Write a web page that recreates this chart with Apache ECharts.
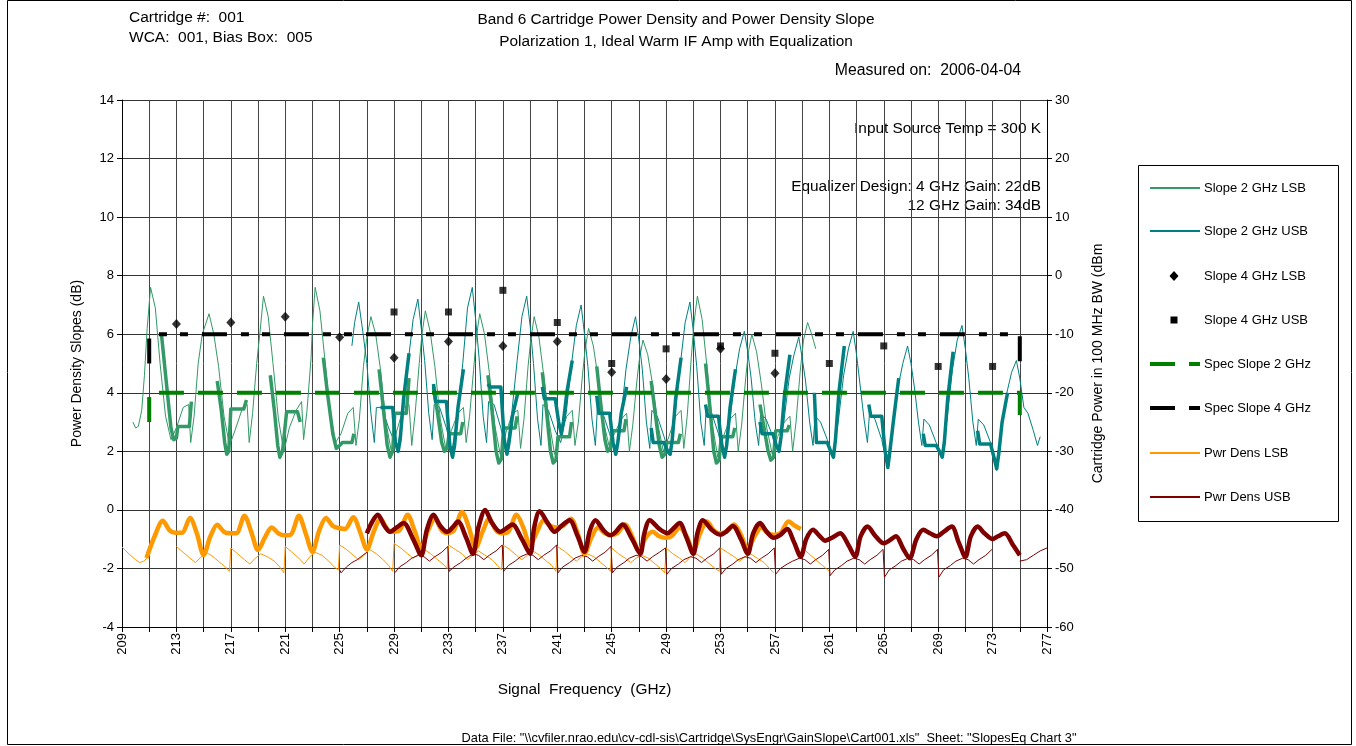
<!DOCTYPE html>
<html>
<head>
<meta charset="utf-8">
<script src="https://cdn.jsdelivr.net/npm/echarts@6.0.0/dist/echarts.min.js"></script>
<style>html,body{margin:0;padding:0;background:#fff;}#chart{width:1356px;height:746px;}</style>
</head>
<body>
<div id="chart"></div>
<script>
// ---------- DATA ----------
const xLabelValues = [209,213,217,221,225,229,233,237,241,245,249,253,257,261,265,269,273,277];
const legendNames = ['Slope 2 GHz LSB','Slope 2 GHz USB','Slope 4 GHz LSB','Slope 4 GHz USB','Spec Slope 2 GHz','Spec Slope 4 GHz','Pwr Dens LSB','Pwr Dens USB'];

const slope2LsbThin = [
[209.8,3.0],[210.0,2.8],[210.2,2.85],[210.45,3.4],[210.65,4.6],[210.85,6.2],[211.1,7.6],
[211.45,6.9],[211.8,5.0],[212.2,3.2],[212.6,2.4],[213.0,2.8],[213.5,3.5],[213.9,3.6],[214.05,2.3],[214.3,3.2],[214.6,5.0],[214.9,6.0],
[215.4,6.7],[215.75,6.0],[216.1,4.9],[216.5,3.2],[216.9,2.2],[217.3,2.7],[217.8,3.4],[218.2,3.6],[218.35,2.3],[218.6,3.3],[218.9,5.0],[219.15,6.1],
[219.4,7.3],[219.75,6.6],[220.1,5.0],[220.5,3.1],[220.9,2.0],[221.3,2.8],[221.8,3.4],[222.2,3.7],[222.35,2.4],[222.6,3.4],[222.9,5.2],[223.0,6.3],
[223.2,7.6],[223.55,6.8],[223.9,5.2],[224.3,3.3],[224.7,2.3],[225.1,2.6],[225.6,3.3],[226.0,3.5],[226.2,2.2],[226.45,3.1],[226.75,4.9],[227.0,5.9],
[227.3,6.6],[227.65,6.0],[228.0,4.8],[228.4,3.0],[228.8,2.0],[229.2,2.7],[229.7,3.5],[230.1,3.6],[230.3,2.2],[230.55,3.3],[230.85,5.0],[231.05,6.0],
[231.3,6.8],[231.65,6.1],[232.0,4.9],[232.4,3.1],[232.8,2.1],[233.2,2.7],[233.7,3.3],[234.1,3.5],[234.3,2.3],[234.55,3.2],[234.85,4.8],[235.05,5.9],
[235.3,6.7],[235.65,6.0],[236.0,4.7],[236.4,2.9],[236.8,1.9],[237.2,2.6],[237.7,3.3],[238.1,3.4],[238.3,2.1],[238.55,3.1],[238.85,4.9],[239.05,5.8],
[239.3,6.6],[239.65,5.9],[240.0,4.6],[240.4,3.0],[240.8,1.9],[241.2,2.5],[241.7,3.2],[242.1,3.4],[242.3,2.2],[242.55,3.0],[242.85,4.6],[243.05,5.5],
[243.3,6.2],[243.65,5.6],[244.0,4.5],[244.4,3.0],[244.8,2.2],[245.2,2.6],[245.7,3.1],[246.1,3.3],[246.3,2.0],[246.55,2.9],[246.85,4.4],[247.05,5.2],
[247.3,5.8],[247.65,5.3],[248.0,4.3],[248.4,2.9],[248.8,2.0],[249.2,2.5],[249.7,3.2],[250.1,3.4],[250.3,2.1],[250.55,3.2],[250.85,5.2],[251.05,6.4],
[251.3,7.3],[251.65,6.5],[252.0,4.9],[252.4,2.9],[252.8,1.8],[253.2,2.5],[253.7,3.1],[254.1,3.3],[254.3,2.0],[254.55,2.9],[254.85,4.5],[255.05,5.4],
[255.3,6.0],[255.65,5.4],[256.0,4.3],[256.4,2.8],[256.8,1.9],[257.2,2.5],[257.7,3.0],[258.1,3.2],[258.3,2.0],[258.55,3.0],[258.85,4.7],[259.1,5.8],[259.4,6.4],[259.7,6.0],[260.0,5.5]
];

const slope2LsbThick = [
[211.9,6.0],[212.25,4.4],[212.6,2.8],[212.8,2.4],[213.0,2.45],[213.1,2.85],[213.95,2.85],[214.1,3.7],null,
[216.0,4.4],[216.3,3.4],[216.55,2.3],[216.7,1.9],[216.85,2.0],[217.0,3.45],[217.95,3.45],[218.15,3.75],null,
[219.9,4.6],[220.2,3.4],[220.45,2.2],[220.6,1.8],[220.8,2.0],[221.1,3.35],[221.9,3.35],[222.1,3.0],null,
[223.8,5.2],[224.1,4.0],[224.5,2.6],[224.75,2.1],[225.0,2.2],[225.2,2.3],[225.9,2.3],[226.05,2.6],null,
[227.9,4.8],[228.2,3.5],[228.5,2.2],[228.7,1.8],[228.9,2.0],[229.05,3.3],[229.9,3.3],[230.1,4.5],null,
[231.9,4.2],[232.2,3.3],[232.5,2.3],[232.7,2.0],[232.9,2.1],[233.05,2.6],[233.9,2.6],[234.05,3.0],null,
[235.9,4.6],[236.2,3.4],[236.5,2.0],[236.7,1.6],[236.9,1.75],[237.05,2.8],[237.9,2.8],[238.05,3.2],null,
[239.9,4.7],[240.2,3.4],[240.5,2.0],[240.7,1.6],[240.9,1.7],[241.05,2.5],[241.9,2.5],[242.05,3.0],null,
[243.9,4.9],[244.2,3.6],[244.5,2.4],[244.7,2.0],[244.9,2.1],[245.05,2.7],[245.9,2.7],[246.05,3.1],null,
[247.9,4.4],[248.2,3.3],[248.5,2.2],[248.7,1.8],[248.9,1.9],[249.05,2.3],[249.9,2.3],[250.05,2.6],null,
[251.9,5.0],[252.2,3.6],[252.5,2.0],[252.7,1.6],[252.9,1.7],[253.05,2.5],[253.9,2.5],[254.05,2.8],null,
[255.9,3.6],[256.2,2.8],[256.5,2.0],[256.7,1.7],[256.9,1.8],[257.05,2.7],[257.9,2.7],[258.05,2.9]
];

const slope2UsbThin = [
[225.9,5.6],[226.1,6.4],[226.4,7.1],
[226.7,6.1],[227.0,5.0],[227.3,3.3],[227.55,2.3],[227.7,3.5],[228.1,3.5],[228.6,2.8],[229.25,2.1],[229.6,3.1],[230.0,4.9],[230.4,6.5],
[230.75,7.2],[231.0,6.2],[231.25,5.1],[231.55,3.3],[231.8,2.4],[231.95,3.6],[232.35,3.5],[232.85,2.8],[233.25,2.0],[233.65,3.2],[234.05,5.0],[234.4,6.9],
[234.75,7.6],[235.0,6.5],[235.25,5.2],[235.55,3.2],[235.8,2.3],[235.95,3.7],[236.35,3.6],[236.85,2.8],[237.25,2.0],[237.65,3.3],[238.05,5.1],[238.4,6.6],
[238.75,7.3],[239.0,6.3],[239.25,5.0],[239.55,3.1],[239.8,2.2],[239.95,3.6],[240.35,3.4],[240.85,2.7],[241.25,2.3],[241.65,3.3],[242.05,5.0],[242.4,6.3],
[242.75,7.0],[243.0,6.0],[243.25,4.9],[243.55,3.1],[243.8,2.2],[243.95,3.5],[244.35,3.3],[244.85,2.6],[245.25,1.9],[245.65,3.0],[246.05,4.8],[246.4,5.9],
[246.75,6.6],[247.0,5.8],[247.25,4.8],[247.55,3.0],[247.8,2.1],[247.95,3.4],[248.35,3.2],[248.85,2.5],[249.25,1.9],[249.65,3.2],[250.05,5.0],[250.4,6.4],
[250.75,7.1],[251.0,6.1],[251.25,4.9],[251.55,3.0],[251.8,2.2],[251.95,3.5],[252.35,3.3],[252.85,2.6],[253.25,1.8],[253.65,2.9],[254.05,4.5],[254.4,5.5],
[254.75,6.1],[255.0,5.4],[255.25,4.5],[255.55,3.0],[255.8,2.2],[255.95,3.3],[256.35,3.1],[256.85,2.5],[257.25,2.0],[257.65,3.0],[258.05,4.5],[258.4,5.3],
[258.75,5.9],[259.0,5.2],[259.25,4.4],[259.55,3.0],[259.8,2.2],[259.95,3.2],[260.35,3.0],[260.85,2.4],[261.25,1.8],[261.65,3.0],[262.05,4.6],[262.4,5.5],
[262.75,6.1],[263.0,5.3],[263.25,4.3],[263.55,3.1],[263.8,2.3],[263.95,3.3],[264.35,3.1],[264.85,2.4],[265.25,1.5],[265.65,2.8],[266.05,4.2],[266.4,5.0],
[266.75,5.6],[267.0,5.0],[267.25,4.2],[267.55,3.0],[267.8,2.2],[267.95,3.1],[268.35,2.9],[268.85,2.3],[269.25,1.8],[269.65,3.1],[270.05,4.8],[270.4,5.8],
[270.75,6.3],[271.0,5.5],[271.25,4.5],[271.55,3.0],[271.8,2.2],[271.95,3.1],[272.35,2.9],[272.85,2.3],[273.25,1.5],[273.65,2.7],[274.05,4.0],[274.4,4.7],
[274.75,5.1],[275.0,4.5],[275.3,3.5],[275.6,3.3],[276.0,2.7],[276.3,2.2],[276.5,2.5]
];

const slope2UsbThick = [
[228.0,3.5],[228.9,3.5],[229.1,2.3],[229.3,2.0],[229.45,2.4],[229.7,3.8],[230.1,5.35],null,
[231.9,4.3],[232.05,3.7],[232.85,3.7],[233.1,2.2],[233.3,1.8],[233.45,2.2],[233.7,3.5],[234.1,4.8],null,
[235.9,4.3],[236.05,4.2],[236.85,4.2],[237.1,2.4],[237.3,1.9],[237.45,2.3],[237.7,3.2],[238.1,4.0],null,
[239.9,4.2],[240.05,3.8],[240.85,3.8],[241.1,3.0],[241.3,2.6],[241.45,3.0],[241.7,4.0],[242.1,5.1],null,
[243.9,3.9],[244.05,3.3],[244.85,3.3],[245.1,2.3],[245.3,1.9],[245.45,2.3],[245.7,3.3],[246.1,4.2],null,
[247.9,2.8],[248.05,2.3],[248.85,2.3],[249.1,2.0],[249.3,1.9],[249.45,2.4],[249.7,3.8],[250.1,5.2],null,
[251.9,3.6],[252.05,3.2],[252.85,3.2],[253.1,2.2],[253.3,1.8],[253.45,2.2],[253.7,3.5],[254.1,4.8],null,
[255.9,3.0],[256.05,2.6],[256.85,2.6],[257.1,2.2],[257.3,2.0],[257.45,2.5],[257.7,3.9],[258.1,5.3],null,
[259.9,4.0],[260.05,2.3],[260.85,2.3],[261.1,2.0],[261.3,1.8],[261.45,2.4],[261.7,4.0],[262.1,5.6],null,
[263.9,3.6],[264.05,3.2],[264.85,3.2],[265.1,2.0],[265.3,1.45],[265.45,2.0],[265.7,3.0],[266.1,4.5],null,
[267.9,2.6],[268.05,2.2],[268.85,2.2],[269.1,2.0],[269.3,1.8],[269.45,2.3],[269.7,3.8],[270.1,5.4],null,
[271.9,2.7],[272.05,2.25],[272.85,2.25],[273.1,1.8],[273.3,1.4],[273.45,1.9],[273.7,3.0],[274.1,4.0]
];

const slope4Lsb = [[213,6.35],[217,6.4],[221,6.6],[225,5.9],[229,5.2],[233,5.75],[237,5.6],[241,5.75],[245,4.7],[249,4.47],[253,5.5],[257,4.67]];
const slope4Usb = [[229,6.76],[233,6.76],[237,7.5],[241,6.4],[245,5.0],[249,5.5],[253,5.6],[257,5.35],[261,5.0],[265,5.6],[269,4.9],[273,4.9]];

const specSlope2 = [[211,3],[211,4],[275,4],[275,3]];
const specSlope4 = [[211,5],[211,6],[275,6],[275,5]];

// power densities in dBm (right axis)
const pwrLsbThick = [
[210.8,-48.2],[211.4,-44.5],[212.0,-41.85],[212.5,-43.5],[212.9,-43.9],[213.4,-43.9],[214.0,-41.4],[214.5,-44.0],[215.0,-47.7],
[215.5,-44.5],[216.0,-42.55],[216.5,-43.75],[216.9,-44.0],[217.4,-44.0],[218.0,-41.0],[218.5,-43.75],[219.0,-46.85],
[219.5,-44.75],[220.0,-43.0],[220.5,-44.0],[220.9,-44.35],[221.4,-44.25],[222.0,-41.0],[222.5,-44.0],[223.0,-47.15],
[223.5,-43.5],[224.0,-41.4],[224.5,-42.75],[224.9,-43.1],[225.4,-43.25],[226.0,-41.25],[226.5,-43.75],[227.0,-46.75],
[227.5,-43.75],[228.0,-41.5],[228.5,-43.25],[228.9,-43.75],[229.4,-43.5],[230.0,-40.85],[230.5,-43.5],[231.0,-46.5],
[231.5,-43.5],[232.0,-41.5],[232.5,-43.5],[232.9,-44.0],[233.4,-43.5],[234.0,-40.35],[234.5,-43.0],[235.0,-46.5],
[235.5,-43.75],[236.0,-41.5],[236.5,-43.5],[236.9,-44.0],[237.4,-43.75],[238.0,-40.85],[238.5,-43.0],[239.0,-46.0],
[239.5,-43.75],[240.0,-41.75],[240.5,-42.75],[240.9,-43.0],[241.4,-42.75],[242.0,-41.5],[242.5,-44.0],[243.0,-47.5],
[243.5,-44.75],[244.0,-43.0],[244.5,-44.0],[244.9,-44.25],[245.4,-44.0],[246.0,-42.5],[246.5,-44.5],[247.0,-47.0],
[247.5,-44.75],[248.0,-43.75],[248.5,-44.5],[248.9,-44.75],[249.4,-44.5],[250.0,-43.0],[250.5,-44.5],[251.0,-47.0],
[251.5,-44.0],[252.0,-42.0],[252.5,-43.5],[252.9,-44.0],[253.4,-43.75],[254.0,-42.5],[254.5,-44.25],[255.0,-46.75],
[255.5,-44.5],[256.0,-43.0],[256.5,-44.0],[256.9,-44.25],[257.4,-44.0],[258.0,-42.0],[258.5,-42.75],[258.9,-43.25]
];

const pwrUsbThick = [
[227.0,-44.0],[227.4,-42.0],[227.8,-40.85],[228.3,-42.75],[228.7,-43.75],[229.2,-43.0],[229.7,-42.25],[230.4,-45.0],[231.0,-47.75],
[231.4,-43.5],[231.9,-40.85],[232.4,-42.75],[232.9,-43.75],[233.3,-43.0],[233.7,-42.0],[234.3,-44.75],[234.8,-47.5],
[235.2,-43.0],[235.7,-40.0],[236.2,-42.25],[236.8,-43.75],[237.2,-43.25],[237.7,-42.5],[238.4,-45.0],[239.0,-47.5],
[239.3,-43.0],[239.7,-40.25],[240.3,-42.25],[240.8,-43.75],[241.3,-42.75],[241.9,-41.75],[242.5,-44.5],[243.0,-47.15],
[243.4,-43.5],[243.8,-41.75],[244.4,-43.5],[244.9,-44.35],[245.3,-43.75],[245.8,-42.5],[246.5,-45.0],[247.1,-47.5],
[247.4,-44.0],[247.8,-41.75],[248.5,-43.25],[249.1,-44.0],[249.5,-43.25],[250.0,-42.25],[250.5,-44.75],[251.0,-47.5],
[251.3,-44.0],[251.7,-41.75],[252.4,-43.5],[253.0,-44.25],[253.4,-43.75],[253.9,-42.75],[254.5,-45.0],[255.0,-47.5],
[255.4,-44.0],[255.9,-42.25],[256.4,-43.75],[256.9,-44.75],[257.4,-44.25],[257.9,-43.25],[258.4,-45.5],[258.9,-48.0],
[259.3,-45.0],[259.8,-43.4],[260.3,-44.5],[260.7,-45.25],[261.2,-44.75],[261.8,-44.0],[262.4,-46.0],[262.9,-48.0],
[263.3,-44.5],[263.8,-42.85],[264.4,-44.5],[265.0,-45.7],[265.4,-45.25],[265.9,-44.5],[266.4,-46.5],[266.9,-48.25],
[267.4,-45.0],[267.9,-43.4],[268.4,-44.0],[268.9,-44.5],[269.4,-43.75],[270.0,-42.85],[270.5,-45.5],[271.0,-48.0],
[271.4,-44.5],[271.9,-42.85],[272.4,-44.0],[273.0,-45.0],[273.4,-44.5],[273.9,-44.0],[274.5,-46.0],[275.0,-47.75]
];

const pwrLsbThin = [
[209.0,-46.35],[209.5,-47.5],[210.0,-48.5],[210.3,-49.0],[210.6,-48.75],[210.9,-48.1],null,
[213.0,-46.25],[213.5,-47.25],[214.0,-48.25],[214.4,-49.0],[214.8,-48.1],[215.2,-47.25],[215.7,-48.0],[216.2,-49.0],[216.6,-49.75],[216.9,-50.5],
[217.0,-46.5],[217.5,-47.5],[218.0,-48.5],[218.4,-49.25],[218.8,-48.25],[219.2,-47.5],[219.7,-48.0],[220.2,-48.75],[220.6,-49.75],[220.9,-50.75],
[221.0,-46.25],[221.5,-47.25],[222.0,-48.25],[222.4,-49.25],[222.8,-48.0],[223.2,-47.25],[223.7,-47.75],[224.2,-48.75],[224.6,-49.75],[224.9,-50.25],
[225.0,-46.0],[225.5,-46.75],[226.0,-47.75],[226.4,-48.5],[226.8,-47.75],[227.2,-46.75],[227.7,-47.5],[228.2,-48.5],[228.6,-49.5],[228.9,-50.5],
[229.0,-45.75],[229.5,-46.5],[230.0,-47.5],[230.4,-48.25],[230.8,-47.5],[231.2,-46.75],[231.7,-47.5],[232.2,-48.5],[232.6,-49.25],[232.9,-50.0],
[233.0,-46.0],[233.5,-46.75],[234.0,-47.5],[234.4,-48.5],[234.8,-47.75],[235.2,-47.0],[235.7,-47.75],[236.2,-48.5],[236.6,-49.5],[236.9,-50.25],
[237.0,-46.0],[237.5,-46.75],[238.0,-47.75],[238.4,-48.5],[238.8,-47.75],[239.2,-47.0],[239.7,-47.75],[240.2,-48.75],[240.6,-49.5],[240.9,-50.5],
[241.0,-46.25],[241.5,-47.0],[242.0,-48.0],[242.4,-48.75],[242.8,-48.0],[243.2,-47.5],[243.7,-48.0],[244.2,-49.0],[244.6,-49.75],[244.9,-50.5],
[245.0,-46.5],[245.5,-47.5],[246.0,-48.25],[246.4,-49.0],[246.8,-48.25],[247.2,-47.75],[247.7,-48.25],[248.2,-49.25],[248.6,-50.0],[248.9,-50.75],
[249.0,-46.5],[249.5,-47.5],[250.0,-48.25],[250.4,-49.0],[250.8,-48.0],[251.2,-47.5],[251.7,-48.25],[252.2,-49.25],[252.6,-50.0],[252.9,-50.5],
[253.0,-46.5],[253.5,-47.25],[254.0,-48.0],[254.4,-48.75],[254.8,-48.0],[255.2,-47.5],[255.7,-48.25],[256.2,-49.0],[256.6,-50.0],[256.9,-50.75],null,
[259.0,-46.5],[259.5,-47.5],[260.0,-48.5],[260.5,-49.5],[261.0,-50.5]
];

const pwrUsbThin = [
[225.0,-50.25],[225.1,-50.75],[225.5,-49.75],[225.9,-49.0],[226.3,-48.5],[226.7,-47.75],[227.0,-47.25],null,
[229.05,-50.75],[229.4,-49.75],[229.9,-49.0],[230.3,-48.25],[230.8,-47.75],[231.2,-48.0],[231.6,-48.75],[232.0,-48.0],[232.5,-47.25],[232.95,-46.25],
[233.05,-50.5],[233.4,-49.75],[233.9,-49.0],[234.3,-48.25],[234.8,-47.5],[235.2,-47.75],[235.6,-48.5],[236.0,-47.75],[236.5,-47.0],[236.95,-46.0],
[237.05,-50.5],[237.4,-49.5],[237.9,-48.75],[238.3,-48.0],[238.8,-47.5],[239.2,-47.75],[239.6,-48.5],[240.0,-47.75],[240.5,-47.0],[240.95,-46.0],
[241.05,-50.75],[241.4,-49.75],[241.9,-49.0],[242.3,-48.25],[242.8,-47.75],[243.2,-48.0],[243.6,-48.75],[244.0,-48.0],[244.5,-47.25],[244.95,-46.25],
[245.05,-50.75],[245.4,-49.75],[245.9,-49.0],[246.3,-48.25],[246.8,-47.75],[247.2,-48.0],[247.6,-48.75],[248.0,-48.0],[248.5,-47.25],[248.95,-46.5],
[249.05,-51.0],[249.4,-50.0],[249.9,-49.25],[250.3,-48.5],[250.8,-48.0],[251.2,-48.25],[251.6,-49.0],[252.0,-48.25],[252.5,-47.5],[252.95,-46.5],
[253.05,-51.0],[253.4,-50.0],[253.9,-49.25],[254.3,-48.5],[254.8,-48.0],[255.2,-48.25],[255.6,-49.0],[256.0,-48.25],[256.5,-47.5],[256.95,-46.5],
[257.05,-51.0],[257.4,-50.0],[257.9,-49.25],[258.3,-48.75],[258.8,-48.25],[259.2,-48.5],[259.6,-49.25],[260.0,-48.5],[260.5,-47.75],[260.95,-46.75],
[261.05,-51.25],[261.4,-50.25],[261.9,-49.5],[262.3,-48.75],[262.8,-48.25],[263.2,-48.5],[263.6,-49.25],[264.0,-48.5],[264.5,-47.75],[264.95,-46.75],
[265.05,-51.5],[265.4,-50.25],[265.9,-49.5],[266.3,-48.75],[266.8,-48.25],[267.2,-48.5],[267.6,-49.25],[268.0,-48.5],[268.5,-47.75],[268.95,-46.75],
[269.05,-51.5],[269.4,-50.25],[269.9,-49.5],[270.3,-48.75],[270.8,-48.25],[271.2,-48.5],[271.6,-49.25],[272.0,-48.5],[272.5,-47.75],[272.95,-46.75],null,
[275.0,-48.75],[275.5,-48.5],[276.0,-47.75],[276.5,-47.0],[277.0,-46.5]
];

// ---------- CHART ----------
const FONT = '"Liberation Sans", Arial, sans-serif';
const C_LSB = '#339966', C_USB = '#008080', C_SPEC2 = '#008000', C_SPEC4 = '#000000', C_PL = '#FF9900', C_PU = '#800000';
const gap = d => d.map(p => p === null ? '-' : p);

function lineSeries(name, data, color, width, yIdx, z, dash, smooth) {
  return {
    type: 'line', name: name, data: gap(data), yAxisIndex: yIdx || 0,
    symbol: 'none', showSymbol: false, connectNulls: false, smooth: smooth || false,
    lineStyle: { color: color, width: width, type: dash || 'solid', cap: 'butt', join: 'round' },
    itemStyle: { color: color }, z: z, animation: false, silent: true
  };
}

const chart = echarts.init(document.getElementById('chart'), null, { renderer: 'canvas' });

// legend drawn as a boxed key (icons + real text)
const keyStyle = [
  { color: C_LSB, kind: 'line', w: 2 },
  { color: C_USB, kind: 'line', w: 2 },
  { color: '#000', kind: 'diamond' },
  { color: '#000', kind: 'square' },
  { color: C_SPEC2, kind: 'line', w: 4, dash: [25, 14] },
  { color: C_SPEC4, kind: 'line', w: 4, dash: [25, 14] },
  { color: C_PL, kind: 'line', w: 2 },
  { color: C_PU, kind: 'line', w: 2 }
];
const keyRows = [188, 231, 276, 320, 364, 408, 453, 497];
const keyGraphics = [];
legendNames.forEach((nm, i) => {
  const s = keyStyle[i], cy = keyRows[i];
  if (s.kind === 'line') {
    keyGraphics.push({ type: 'line', shape: { x1: 1150, y1: cy, x2: 1200, y2: cy },
      style: { stroke: s.color, lineWidth: s.w, lineDash: s.dash || null }, silent: true, z: 10 });
  } else if (s.kind === 'diamond') {
    keyGraphics.push({ type: 'polygon', shape: { points: [[1174, cy - 5], [1178.5, cy], [1174, cy + 5], [1169.5, cy]] },
      style: { fill: '#000' }, silent: true, z: 10 });
  } else {
    keyGraphics.push({ type: 'rect', shape: { x: 1170.5, y: cy - 3.5, width: 7, height: 7 },
      style: { fill: '#000' }, silent: true, z: 10 });
  }
  keyGraphics.push({ type: 'text', x: 1204, y: cy, style: { text: nm, font: '13px ' + FONT, fill: '#000', textVerticalAlign: 'middle' }, silent: true, z: 10 });
});

const T = '15.4px ' + FONT;
const option = {
  backgroundColor: '#fff',
  animation: false,
  textStyle: { fontFamily: FONT },
  grid: { left: 122, right: 309, top: 100, bottom: 119, containLabel: false, outerBoundsMode: 'none' },
  xAxis: {
    type: 'value', min: 209, max: 277, interval: 2,
    name: 'Signal  Frequency  (GHz)', nameLocation: 'middle', nameGap: 55,
    nameTextStyle: { fontSize: 15.4, fontFamily: FONT, color: '#000' },
    axisLine: { show: true, onZero: false, lineStyle: { color: '#000', width: 1 } },
    axisTick: { show: true, length: 5, lineStyle: { color: '#000' } },
    axisLabel: { rotate: 90, fontSize: 13, fontFamily: FONT, color: '#000', margin: 6,
      formatter: v => xLabelValues.indexOf(v) >= 0 ? String(v) : '' },
    splitLine: { show: true, lineStyle: { color: '#444', width: 1 } }
  },
  yAxis: [
    {
      type: 'value', min: -4, max: 14, interval: 2, position: 'left',
      name: 'Power Density Slopes (dB)', nameLocation: 'middle', nameGap: 38,
      nameTextStyle: { fontSize: 14, fontFamily: FONT, color: '#000' },
      axisLine: { show: true, lineStyle: { color: '#000', width: 1 } },
      axisTick: { show: true, length: 5, lineStyle: { color: '#000' } },
      axisLabel: { fontSize: 13, fontFamily: FONT, color: '#000', margin: 8 },
      splitLine: { show: true, lineStyle: { color: '#333', width: 1 } }
    },
    {
      type: 'value', min: -60, max: 30, interval: 10, position: 'right',
      name: 'Cartridge Power in 100 MHz BW (dBm', nameLocation: 'middle', nameGap: 44,
      nameTextStyle: { fontSize: 14, fontFamily: FONT, color: '#000' },
      axisLine: { show: true, lineStyle: { color: '#000', width: 1 } },
      axisTick: { show: true, length: 5, lineStyle: { color: '#000' } },
      axisLabel: { fontSize: 13, fontFamily: FONT, color: '#000', margin: 8 },
      splitLine: { show: false }
    }
  ],
  graphic: [
    { type: 'rect', shape: { x: 7.5, y: 0.5, width: 1344, height: 744 }, style: { fill: 'none', stroke: '#000', lineWidth: 1 }, z: -10, silent: true },
    { type: 'rect', shape: { x: 1138.5, y: 165.5, width: 200, height: 356 }, style: { fill: '#fff', stroke: '#000', lineWidth: 1 }, z: 9, silent: true },
    { type: 'text', x: 129, y: 18, style: { text: 'Cartridge #:  001', font: '15.5px ' + FONT, fill: '#000', textVerticalAlign: 'middle' } },
    { type: 'text', x: 129, y: 38, style: { text: 'WCA:  001, Bias Box:  005', font: '15.5px ' + FONT, fill: '#000', textVerticalAlign: 'middle' } },
    { type: 'text', x: 676, y: 20, style: { text: 'Band 6 Cartridge Power Density and Power Density Slope', font: T, fill: '#000', textAlign: 'center', textVerticalAlign: 'middle' } },
    { type: 'text', x: 676, y: 42, style: { text: 'Polarization 1, Ideal Warm IF Amp with Equalization', font: T, fill: '#000', textAlign: 'center', textVerticalAlign: 'middle' } },
    { type: 'text', x: 1021, y: 71, style: { text: 'Measured on:  2006-04-04', font: '15.8px ' + FONT, fill: '#000', textAlign: 'right', textVerticalAlign: 'middle' } },
    { type: 'text', x: 1041, y: 129, style: { text: 'Input Source Temp = 300 K', font: T, fill: '#000', textAlign: 'right', textVerticalAlign: 'middle' } },
    { type: 'text', x: 1041, y: 187, style: { text: 'Equalizer Design: 4 GHz Gain: 22dB', font: T, fill: '#000', textAlign: 'right', textVerticalAlign: 'middle' } },
    { type: 'text', x: 1041, y: 206, style: { text: '12 GHz Gain: 34dB', font: T, fill: '#000', textAlign: 'right', textVerticalAlign: 'middle' } },
    { type: 'text', x: 769, y: 738, style: { text: 'Data File: "\\\\cvfiler.nrao.edu\\cv-cdl-sis\\Cartridge\\SysEngr\\GainSlope\\Cart001.xls"  Sheet: "SlopesEq Chart 3"', font: '12.8px ' + FONT, fill: '#000', textAlign: 'center', textVerticalAlign: 'middle' } }
  ].concat(keyGraphics),
  series: [
    lineSeries('Slope 2 GHz LSB', slope2LsbThin, C_LSB, 1, 0, 2),
    lineSeries('Slope 2 GHz USB', slope2UsbThin, C_USB, 1, 0, 2),
    lineSeries('Slope 2 GHz LSB (IF band)', slope2LsbThick, C_LSB, 3.5, 0, 3),
    lineSeries('Slope 2 GHz USB (IF band)', slope2UsbThick, C_USB, 3.5, 0, 3),
    lineSeries('Spec Slope 2 GHz', specSlope2, C_SPEC2, 4, 0, 4, [25, 14]),
    lineSeries('Spec Slope 4 GHz', specSlope4, C_SPEC4, 4, 0, 4, [25, 14, 8, 13, 8, 14]),
    { type: 'scatter', name: 'Slope 4 GHz LSB', data: slope4Lsb, symbol: 'diamond', symbolSize: [9, 10], itemStyle: { color: '#000' }, z: 5, animation: false, silent: true },
    { type: 'scatter', name: 'Slope 4 GHz USB', data: slope4Usb, symbol: 'rect', symbolSize: 7, itemStyle: { color: '#000' }, z: 5, animation: false, silent: true },
    lineSeries('Pwr Dens LSB', pwrLsbThin, C_PL, 1, 1, 6),
    lineSeries('Pwr Dens USB', pwrUsbThin, C_PU, 1, 1, 6),
    lineSeries('Pwr Dens LSB (IF band)', pwrLsbThick, C_PL, 4.5, 1, 7, null, 0.3),
    lineSeries('Pwr Dens USB (IF band)', pwrUsbThick, C_PU, 4.5, 1, 8, null, 0.3)
  ]
};
chart.setOption(option);
</script>
</body>
</html>
